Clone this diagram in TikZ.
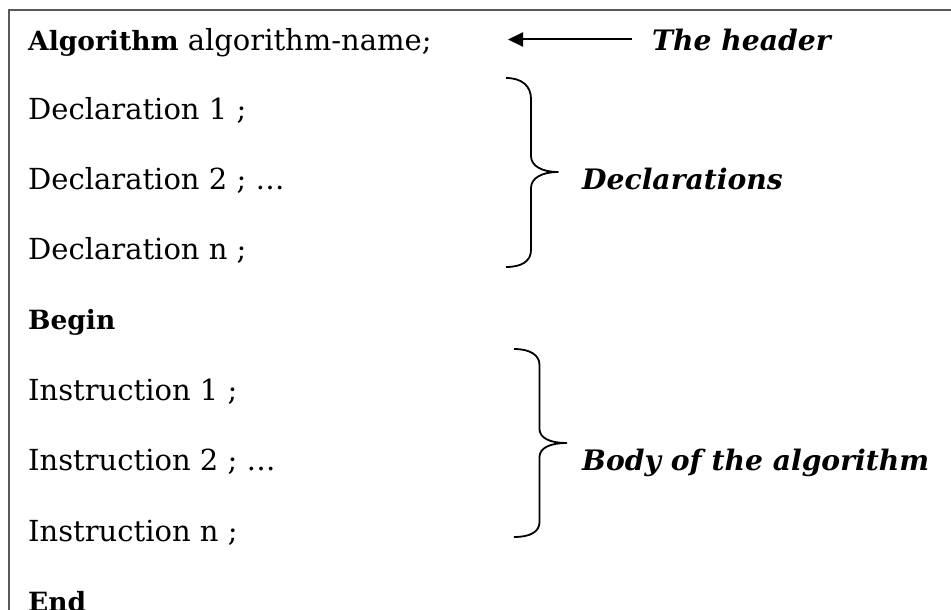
\documentclass[tikz,border=0pt]{standalone}
\usepackage{fontspec}
\setmainfont{DejaVu Serif}
\usetikzlibrary{arrows.meta}
\begin{document}
\begin{tikzpicture}[x=1pt,y=-1pt,
  code/.style={anchor=base west,inner sep=0pt,font=\fontsize{29}{32}\selectfont},
  kw/.style={anchor=base west,inner sep=0pt,font=\fontsize{26.5}{32}\selectfont\bfseries},
  note/.style={anchor=base west,inner sep=0pt,font=\fontsize{28.2}{32}\selectfont\bfseries\itshape},
  brace/.style={line width=1.8pt,line join=round},
  frame/.style={draw=black!65,line width=2pt},
  pointer/.style={line width=2pt,-{Triangle[length=15pt,width=14pt]}}]
\useasboundingbox (0,0) rectangle (951,610);

% open frame: left and top rules only
\draw[frame] (9,610) -- (9,10.5) -- (951,10.5);

% algorithm skeleton
\node[code] (hdr) at (28,51) {{\fontsize{26.5}{32}\selectfont\bfseries Algorithm} algorithm-name;};
\node[code] (d1) at (28,119) {Declaration 1 ;};
\node[code] (d2) at (28,189) {Declaration 2 ; \dots};
\node[code] (dn) at (28,259) {Declaration n ;};
\node[kw]   (beg) at (28,329) {Begin};
\node[code] (i1) at (28,400) {Instruction 1 ;};
\node[code] (i2) at (28,470) {Instruction 2 ; \dots};
\node[code] (in) at (28,541) {Instruction n ;};
\node[kw]   (fin) at (28,611) {End};

% annotations
\node[note] (theheader) at (652,51) {The header};
\node[note] (decls) at (582,189) {Declarations};
\node[note] (body) at (582,470) {Body of the algorithm};

% arrow pointing back at the header line
\coordinate (hdrtip) at (508,39.5);
\draw[pointer] (theheader.west |- hdrtip) ++(-20,0) coordinate (arrstart) -- (hdrtip);

% brace around the declarations
\draw[brace] (506,78) .. controls (522,78) and (531,86) .. (531,99)
  -- (531,156) .. controls (531,166) and (542,172) .. (558,172)
  .. controls (542,172) and (531,178) .. (531,188)
  -- (531,250) .. controls (531,261) and (522,267) .. (506,267);

% brace around the instructions
\draw[brace] (514,349) .. controls (530,349) and (539.5,355) .. (539.5,365)
  -- (539.5,429) .. controls (539.5,438) and (550,443) .. (566.5,443)
  .. controls (550,443) and (539.5,448) .. (539.5,457)
  -- (539.5,522) .. controls (539.5,532) and (530,537) .. (514,537);
\end{tikzpicture}
\end{document}
